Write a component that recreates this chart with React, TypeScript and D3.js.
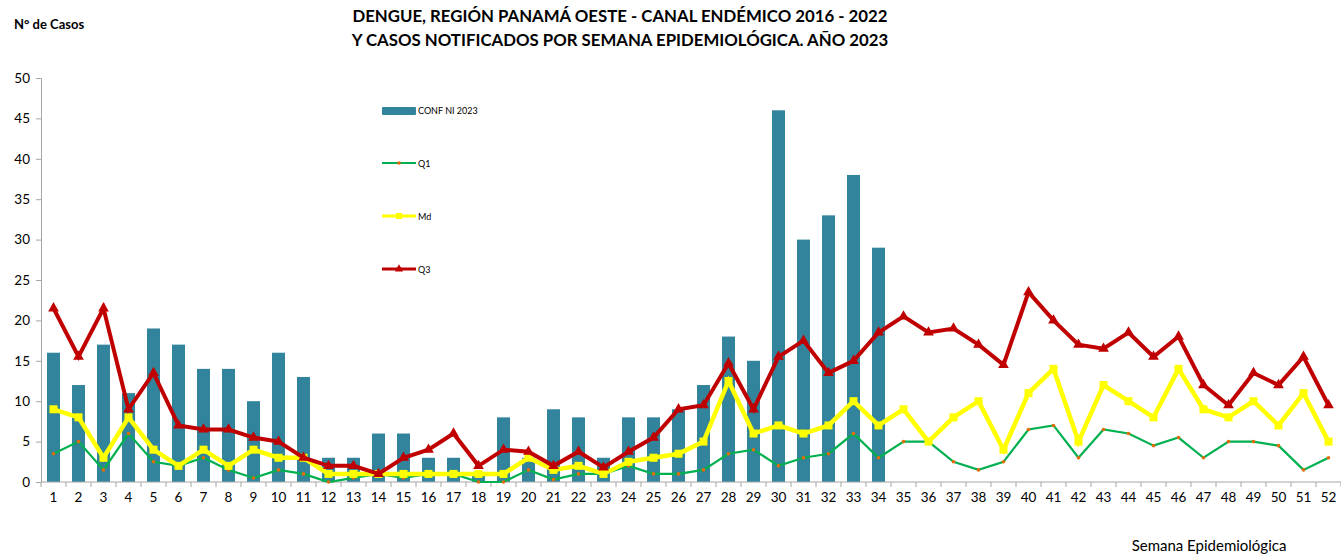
import { useEffect, useRef } from "react";
import * as d3 from "d3";

const weeks = d3.range(1, 53).map(String);

// casos confirmados 2023 (semanas 1-34)
const confNi2023 = [16, 12, 17, 11, 19, 17, 14, 14, 10, 16, 13, 3, 3, 6, 6, 3, 3, 1, 8, 3, 9, 8, 3, 8, 8, 9, 12, 18, 15, 46, 30, 33, 38, 29];

const q1 = [3.5, 5, 1.5, 6, 2.5, 2, 3, 1.5, 0.5, 1.5, 1, 0, 0.5, 1, 0.5, 1, 1, 0, 0, 1.5, 0.3, 1, 1, 2, 1, 1, 1.5, 3.5, 4, 2, 3, 3.5, 6, 3, 5, 5, 2.5, 1.5, 2.5, 6.5, 7, 3, 6.5, 6, 4.5, 5.5, 3, 5, 5, 4.5, 1.5, 3];

const md = [9, 8, 3, 8, 4, 2, 4, 2, 4, 3, 3, 1, 1, 1, 1, 1, 1, 1, 1, 3, 1.5, 2, 1, 2.5, 3, 3.5, 5, 12.5, 6, 7, 6, 7, 10, 7, 9, 5, 8, 10, 4, 11, 14, 5, 12, 10, 8, 14, 9, 8, 10, 7, 11, 5];

const q3 = [21.5, 15.5, 21.5, 9, 13.5, 7, 6.5, 6.5, 5.5, 5, 3, 2, 2, 1, 3, 4, 6, 2, 4, 3.75, 2, 3.75, 1.8, 3.75, 5.5, 9, 9.5, 14.7, 9, 15.5, 17.5, 13.5, 15, 18.5, 20.5, 18.5, 19, 17, 14.5, 23.5, 20, 17, 16.5, 18.5, 15.5, 18, 12, 9.5, 13.5, 12, 15.5, 9.5];

const yTicks = d3.range(0, 51, 5);

const BAR = "#31849b";
const GREEN = "#00b050";
const YELLOW = "#ffff00";
const RED = "#c00000";
const AXIS = "#a6a6a6";
const FONT = "Lato, 'Open Sans', sans-serif";

export default function App() {
  const svgRef = useRef<SVGSVGElement>(null);

  useEffect(() => {
    const width = 1341;
    const height = 554;
    const margin = { top: 78, right: 0, bottom: 72, left: 41 };

    const svg = d3.select(svgRef.current);
    svg.selectAll("*").remove();
    svg.attr("width", width).attr("height", height);

    const x = d3
      .scaleBand()
      .domain(weeks)
      .range([margin.left, width - margin.right]);

    const step = x.step();
    const center = (i: number) => (x(weeks[i]) ?? 0) + x.bandwidth() / 2;

    const y = d3
      .scaleLinear()
      .domain([0, 50])
      .range([height - margin.bottom, margin.top]);

    // bars
    svg
      .append("g")
      .selectAll("rect")
      .data(confNi2023)
      .join("rect")
      .attr("x", (_, i) => center(i) - 6.5)
      .attr("width", 13)
      .attr("y", (d) => y(d))
      .attr("height", (d) => y(0) - y(d))
      .attr("fill", BAR);

    // axes
    const yAxis = svg
      .append("g")
      .attr("transform", `translate(${margin.left},0)`)
      .call(d3.axisLeft(y).tickValues(yTicks).tickSize(5).tickPadding(6));
    yAxis.select(".domain").attr("stroke", AXIS);
    yAxis.selectAll("line").attr("stroke", AXIS);
    yAxis
      .selectAll("text")
      .attr("fill", "#000")
      .attr("font-size", "13.5px")
      .attr("font-family", FONT);

    const xg = svg.append("g");
    xg.append("line")
      .attr("x1", margin.left)
      .attr("x2", width)
      .attr("y1", y(0))
      .attr("y2", y(0))
      .attr("stroke", AXIS);
    xg.selectAll("line.tk")
      .data(d3.range(0, weeks.length + 1))
      .join("line")
      .attr("class", "tk")
      .attr("x1", (i) => margin.left + step * i)
      .attr("x2", (i) => margin.left + step * i)
      .attr("y1", y(0))
      .attr("y2", y(0) + 5)
      .attr("stroke", AXIS);
    xg.selectAll("text")
      .data(weeks)
      .join("text")
      .attr("x", (_, i) => center(i))
      .attr("y", y(0) + 20)
      .attr("text-anchor", "middle")
      .attr("font-size", "13.5px")
      .attr("font-family", FONT)
      .text((d) => d);

    const line = d3
      .line<number>()
      .x((_, i) => center(i))
      .y((d) => y(d));

    // Q1
    svg
      .append("path")
      .datum(q1)
      .attr("fill", "none")
      .attr("stroke", GREEN)
      .attr("stroke-width", 2.2)
      .attr("d", line);
    svg
      .append("g")
      .selectAll("circle")
      .data(q1)
      .join("circle")
      .attr("cx", (_, i) => center(i))
      .attr("cy", (d) => y(d))
      .attr("r", 1.8)
      .attr("fill", "#e46c0a");

    // Md
    svg
      .append("path")
      .datum(md)
      .attr("fill", "none")
      .attr("stroke", YELLOW)
      .attr("stroke-width", 4.5)
      .attr("d", line);
    svg
      .append("g")
      .selectAll("rect")
      .data(md)
      .join("rect")
      .attr("x", (_, i) => center(i) - 4)
      .attr("y", (d) => y(d) - 4)
      .attr("width", 8)
      .attr("height", 8)
      .attr("fill", YELLOW);

    // Q3
    svg
      .append("path")
      .datum(q3)
      .attr("fill", "none")
      .attr("stroke", RED)
      .attr("stroke-width", 4)
      .attr("d", line);
    const tri = d3.symbol(d3.symbolTriangle, 50);
    svg
      .append("g")
      .selectAll("path")
      .data(q3)
      .join("path")
      .attr("transform", (d, i) => `translate(${center(i)},${y(d)})`)
      .attr("d", tri)
      .attr("fill", RED);

    // legend
    const lg = svg.append("g").attr("font-family", FONT).attr("font-size", "9px");
    const lx = 382;
    lg.append("rect").attr("x", lx).attr("y", 107).attr("width", 34).attr("height", 8).attr("rx", 1).attr("fill", BAR);
    lg.append("text").attr("x", lx + 36).attr("y", 114).text("CONF NI 2023");

    const items = [
      { name: "Q1", y: 163, color: GREEN, w: 2 },
      { name: "Md", y: 216, color: YELLOW, w: 3 },
      { name: "Q3", y: 269, color: RED, w: 3 },
    ];
    items.forEach((it) => {
      lg.append("line")
        .attr("x1", lx)
        .attr("x2", lx + 34)
        .attr("y1", it.y)
        .attr("y2", it.y)
        .attr("stroke", it.color)
        .attr("stroke-width", it.w);
      lg.append("text").attr("x", lx + 36).attr("y", it.y + 3.5).text(it.name);
    });
    lg.append("circle").attr("cx", lx + 17).attr("cy", 163).attr("r", 1.8).attr("fill", "#e46c0a");
    lg.append("rect").attr("x", lx + 14).attr("y", 213).attr("width", 6).attr("height", 6).attr("fill", YELLOW);
    lg.append("path").attr("transform", `translate(${lx + 17},269)`).attr("d", d3.symbol(d3.symbolTriangle, 30)).attr("fill", RED);

    // titles
    const t = svg
      .append("text")
      .attr("text-anchor", "middle")
      .attr("font-family", FONT)
      .attr("font-weight", "bold")
      .attr("font-size", "16.8px");
    t.append("tspan").attr("x", 620).attr("y", 22).text("DENGUE, REGIÓN PANAMÁ OESTE - CANAL ENDÉMICO 2016 - 2022");
    t.append("tspan").attr("x", 620).attr("y", 46).text("Y CASOS NOTIFICADOS POR SEMANA EPIDEMIOLÓGICA. AÑO 2023");

    svg
      .append("text")
      .attr("x", 14)
      .attr("y", 29)
      .attr("font-family", FONT)
      .attr("font-weight", "bold")
      .attr("font-size", "13px")
      .text("N° de Casos");

    svg
      .append("text")
      .attr("x", 1209)
      .attr("y", 551)
      .attr("text-anchor", "middle")
      .attr("font-family", FONT)
      .attr("font-size", "15px")
      .text("Semana Epidemiológica");
  }, []);

  return (
    <div style={{ position: "absolute", left: 0, top: 0 }}>
      <svg ref={svgRef} style={{ display: "block" }}></svg>
    </div>
  );
}
